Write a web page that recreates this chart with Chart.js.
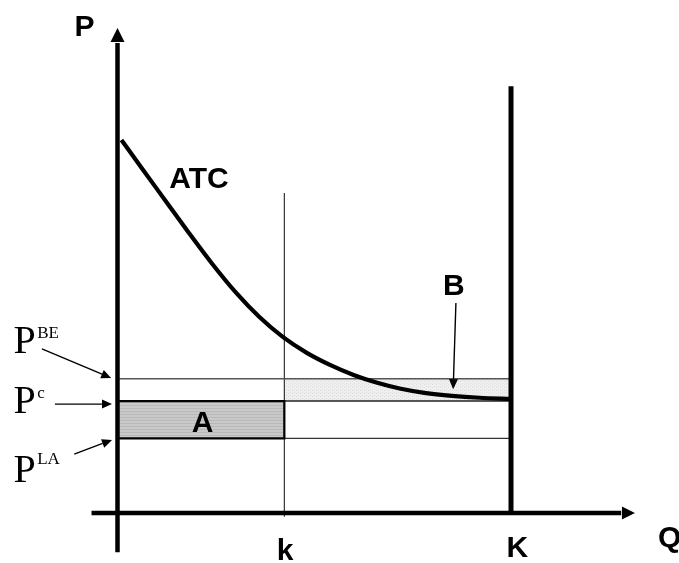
<!DOCTYPE html>
<html>
<head>
<meta charset="utf-8">
<script src="https://cdn.jsdelivr.net/npm/chart.js@4/dist/chart.umd.min.js"></script>
<style>
  html, body { margin: 0; padding: 0; background: #fff; }
  #wrap { width: 679px; height: 563px; position: relative; }
</style>
</head>
<body>
<div id="wrap"><canvas id="costChart"></canvas></div>
<script>
// ATC curve (Q, P)
const quantity = [1, 6, 12, 18, 24, 30, 36, 42, 48, 54, 60, 66, 72, 78, 85, 92, 100];
const atc = [100, 92.7, 84.0, 75.3, 66.9, 59.2, 52.6, 47.2, 43.0, 39.7, 37.0, 34.9, 33.3, 32.2, 31.4, 30.9, 30.6];

// price levels: break-even, competitive, limit
const priceNames = ["BE", "c", "LA"];
const prices = [36, 30, 20];

// output levels on the Q axis
const outputNames = ["k", "K"];
const outputs = [42.4, 100];

const [pBE, pC, pLA] = prices;
const [kSmall, kBig] = outputs;

function pattern(bg, fg, dots) {
    const c = document.createElement("canvas");
    c.width = 4; c.height = 3;
    const g = c.getContext("2d");
    g.fillStyle = bg;
    g.fillRect(0, 0, 4, 3);
    g.fillStyle = fg;
    if (dots) { g.fillRect(0, 0, 1, 1); g.fillRect(2, 2, 1, 1); }
    else g.fillRect(0, 0, 4, 1);
    return g.createPattern(c, "repeat");
}

const line = (data, color, width, order, extra) => Object.assign({
    data, borderColor: color, borderWidth: width, showLine: true,
    pointRadius: 0, fill: false, order
}, extra || {});

const pts = (qs, ps) => qs.map((q, i) => ({ x: q, y: ps[i] }));

const overlay = {
    id: "overlay",
    afterDatasetsDraw(chart) {
        const { ctx, scales: { x, y } } = chart;
        const px = v => x.getPixelForValue(v);
        const py = v => y.getPixelForValue(v);

        function arrow(q0, p0, q1, p1, len, half, width) {
            const x0 = px(q0), y0 = py(p0), x1 = px(q1), y1 = py(p1);
            const a = Math.atan2(y1 - y0, x1 - x0);
            const bx = x1 - len * Math.cos(a), by = y1 - len * Math.sin(a);
            ctx.save();
            ctx.strokeStyle = "#000";
            ctx.fillStyle = "#000";
            ctx.lineWidth = width;
            if (Math.hypot(bx - x0, by - y0) > 1) {
                ctx.beginPath();
                ctx.moveTo(x0, y0);
                ctx.lineTo(bx, by);
                ctx.stroke();
            }
            ctx.beginPath();
            ctx.moveTo(x1, y1);
            ctx.lineTo(bx + half * Math.sin(a), by - half * Math.cos(a));
            ctx.lineTo(bx - half * Math.sin(a), by + half * Math.cos(a));
            ctx.closePath();
            ctx.fill();
            ctx.restore();
        }

        // axis arrowheads
        arrow(0, 126, 0, 130, 14, 7, 4.5);
        arrow(128, 0, 131.5, 0, 13, 6.5, 4.5);

        // pointers to the price levels and to area B
        arrow(-19.2, pBE + 8, -1.6, pBE + 0.2, 10, 4.5, 1.4);
        arrow(-15.9, pC - 0.8, -1.4, pC - 0.8, 10, 4.5, 1.4);
        arrow(-11.0, pLA - 4.2, -1.4, pLA - 0.4, 10, 4.5, 1.4);
        arrow(86.0, 56.3, 85.3, pC + 3.2, 10, 4.5, 1.4);

        ctx.save();
        ctx.fillStyle = "#000";
        ctx.textAlign = "center";
        ctx.textBaseline = "alphabetic";
        ctx.font = 'bold 30px "Liberation Sans", Arial, sans-serif';
        ctx.fillText("P", px(-8.4), py(127.9));
        ctx.fillText("ATC", px(20.7), py(87.1));
        ctx.fillText("A", px(21.6), py(21.7));
        ctx.fillText("B", px(85.5), py(58.4));
        ctx.fillText(outputNames[0], px(kSmall + 0.2), py(-12.6));
        ctx.fillText(outputNames[1], px(kBig + 1.6), py(-11.8));
        ctx.fillText("Q", px(140.3), py(-9.1));

        // P^BE, P^c, P^LA on the left
        const base = [pBE + 6.9, pC - 3.2, pLA - 11.7];
        const sup = [pBE + 10.9, pC + 0.8, pLA - 6.9];
        ctx.textAlign = "left";
        priceNames.forEach((name, i) => {
            ctx.font = '40px "Liberation Serif", "Times New Roman", serif';
            ctx.fillText("P", px(-26.4), py(base[i]));
            ctx.font = '17px "Liberation Serif", "Times New Roman", serif';
            ctx.fillText(name, px(-20.4), py(sup[i]));
        });
        ctx.restore();
    }
};

new Chart(document.getElementById("costChart"), {
    type: "scatter",
    data: {
        datasets: [
            // area A (between P^LA and P^c up to k)
            line(pts([0, kSmall], [pC, pC]), "rgba(0,0,0,0)", 0, 20,
                { fill: { value: pLA }, backgroundColor: pattern("#c9c9c9", "#b9b9b9", false) }),
            // area B (between P^c and P^BE from k to K)
            line(pts([kSmall, kBig], [pBE, pBE]), "rgba(0,0,0,0)", 0, 20,
                { fill: { value: pC }, backgroundColor: pattern("#efefef", "#dcdcdc", true) }),
            // thin guide lines
            line(pts([0, kBig], [pBE, pBE]), "#555", 1.5, 10),
            line(pts([kSmall, kBig], [pLA, pLA]), "#333", 1.3, 10),
            line(pts([kSmall, kSmall], [-1, 85.8]), "#333", 1.2, 10),
            line(pts([kSmall, kBig], [pC, pC]), "#222", 1.5, 10),
            // outline of A
            line(pts([0, kSmall, kSmall, 0, 0], [pC, pC, pLA, pLA, pC]), "#000", 2.2, 8),
            // axes and capacity line
            line(pts([0, 0], [-10.5, 126]), "#000", 4.5, 2),
            line(pts([-6.6, 128], [0, 0]), "#000", 4.5, 2),
            line(pts([kBig, kBig], [0, 114.4]), "#000", 5, 2),
            // ATC
            line(pts(quantity, atc), "#000", 4.2, 1, { cubicInterpolationMode: "monotone" })
        ]
    },
    options: {
        responsive: true,
        maintainAspectRatio: false,
        animation: false,
        layout: { padding: 0 },
        plugins: {
            legend: { display: false },
            tooltip: { enabled: false }
        },
        scales: {
            x: { type: "linear", min: -29.86, max: 142.69, display: false },
            y: { type: "linear", min: -13.4, max: 137.53, display: false }
        }
    },
    plugins: [overlay]
});
</script>
</body>
</html>
